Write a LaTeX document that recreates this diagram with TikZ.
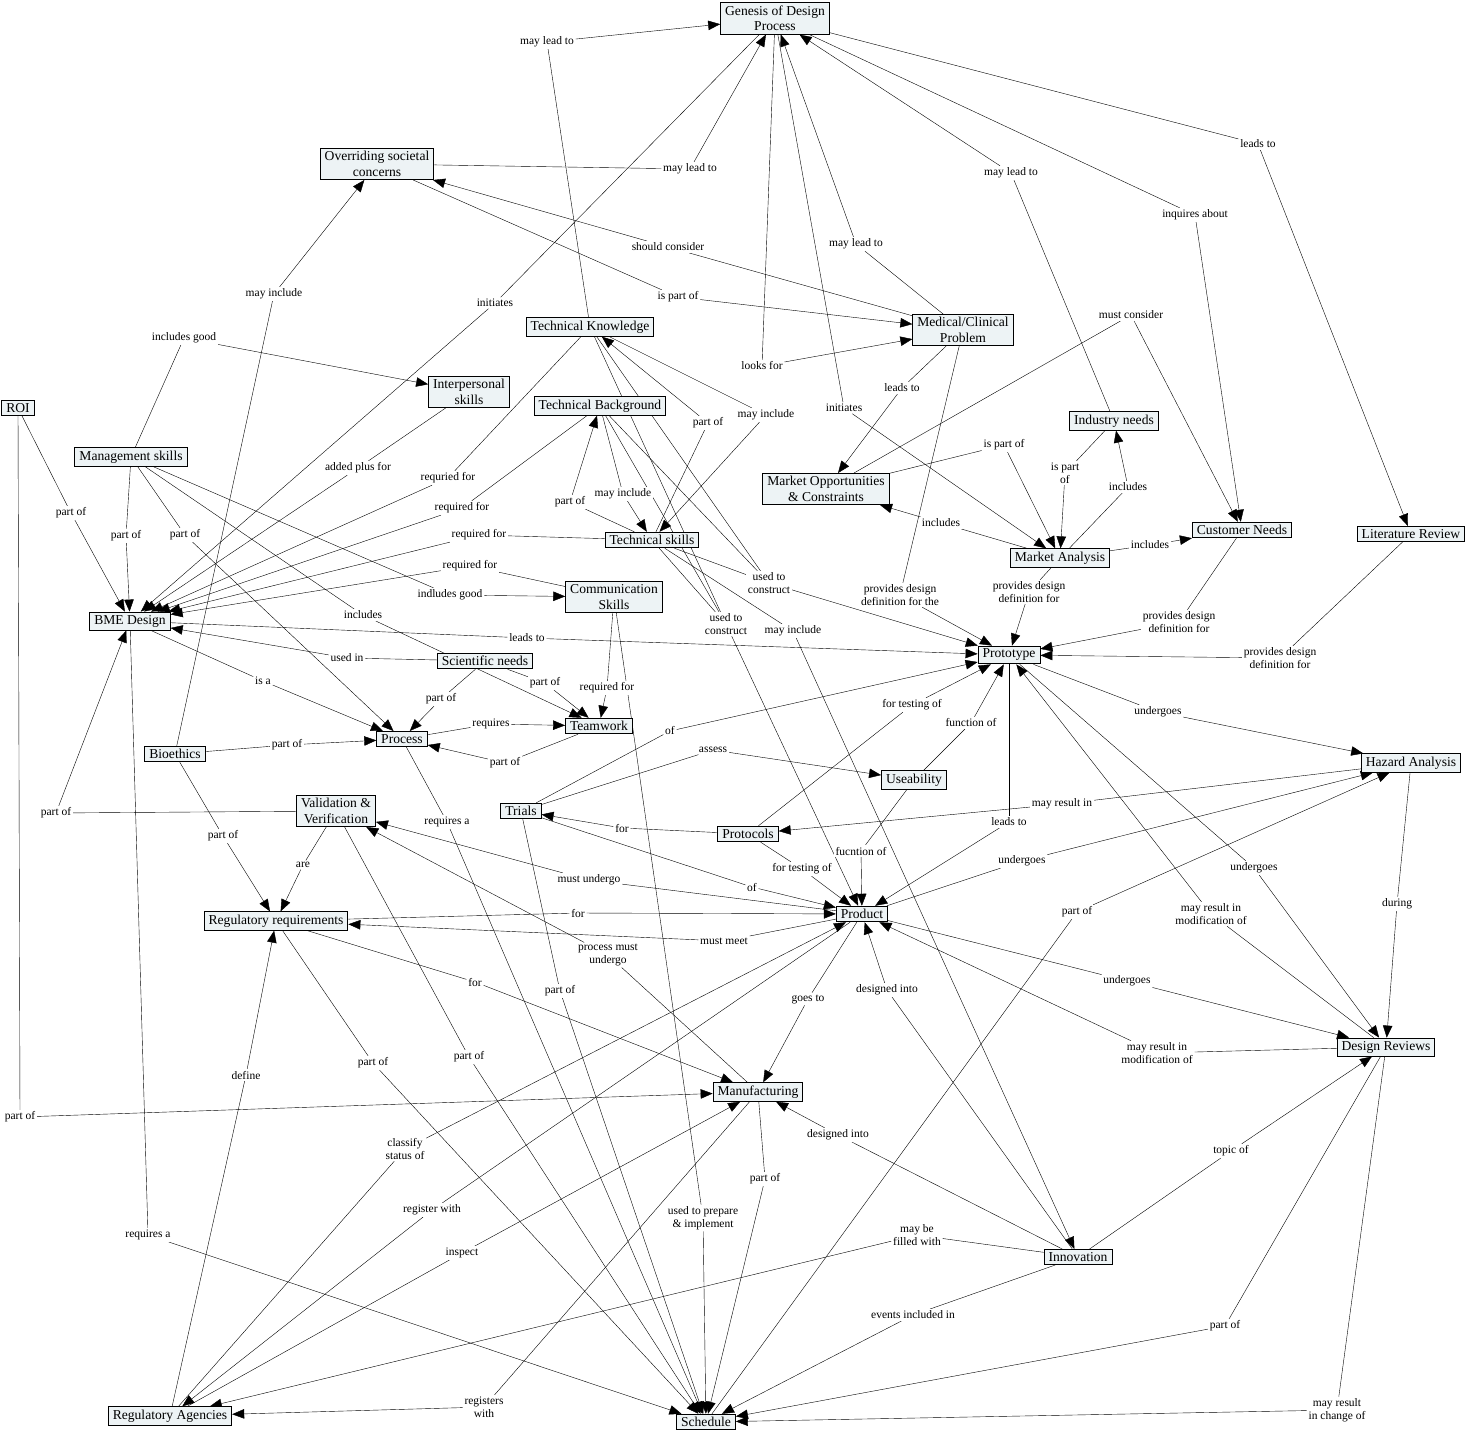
\documentclass[tikz,border=0pt]{standalone}
\usepackage{fontspec}
\setmainfont{Liberation Serif}
\usetikzlibrary{arrows.meta}
\pgfdeclarelayer{bg}
\pgfsetlayers{bg,main}
\begin{document}
\begin{tikzpicture}[x=1pt,y=-1pt,
    concept/.style={draw,line width=0.9pt,fill={rgb,255:red,237;green,243;blue,245},align=center,
      font=\fontsize{13.6}{15.5}\selectfont,inner xsep=4.5pt,inner ysep=3pt},
    phrase/.style={fill=white,align=center,font=\fontsize{11.5}{12.5}\selectfont,inner sep=1.5pt},
    >={Triangle[length=12pt,width=9.5pt]},line width=0.8pt]
    \useasboundingbox (0,0) rectangle (1469,1434);
    \node[concept] (genesis) at (775,18.5) {Genesis of Design\\Process};
    \node[concept] (societal) at (377,164) {Overriding societal\\concerns};
    \node[concept] (techknow) at (590,327) {Technical Knowledge};
    \node[concept] (medical) at (963,330) {Medical/Clinical\\Problem};
    \node[concept] (interpers) at (469,392) {Interpersonal\\skills};
    \node[concept] (roi) at (18,408) {ROI};
    \node[concept] (techback) at (600,406) {Technical Background};
    \node[concept] (industry) at (1114,421) {Industry needs};
    \node[concept] (mgmt) at (131,457) {Management skills};
    \node[concept] (moc) at (826,489) {Market Opportunities\\\& Constraints};
    \node[concept] (customer) at (1242,530) {Customer Needs};
    \node[concept] (litrev) at (1411,534) {Literature Review};
    \node[concept] (techskill) at (652,540) {Technical skills};
    \node[concept] (market) at (1060,558) {Market Analysis};
    \node[concept] (comm) at (614,597) {Communication\\Skills};
    \node[concept] (bme) at (130,621) {BME Design};
    \node[concept] (proto) at (1009,655) {Prototype};
    \node[concept] (sci) at (485,661) {Scientific needs};
    \node[concept] (process) at (402,739) {Process};
    \node[concept] (team) at (599,726) {Teamwork};
    \node[concept] (bioeth) at (175,754) {Bioethics};
    \node[concept] (hazard) at (1411,763) {Hazard Analysis};
    \node[concept] (useab) at (914,780) {Useability};
    \node[concept] (valver) at (336,811) {Validation \&\\Verification};
    \node[concept] (trials) at (521,811) {Trials};
    \node[concept] (protocols) at (748,834) {Protocols};
    \node[concept] (product) at (862,914) {Product};
    \node[concept] (regreq) at (276,921) {Regulatory requirements};
    \node[concept] (reviews) at (1386,1047) {Design Reviews};
    \node[concept] (manuf) at (758,1092) {Manufacturing};
    \node[concept] (innov) at (1078,1257) {Innovation};
    \node[concept] (agencies) at (170,1416) {Regulatory Agencies};
    \node[concept] (sched) at (706,1422) {Schedule};

    \node[phrase] (p1) at (547,42) {may lead to};
    \node[phrase] (p2) at (690,169) {may lead to};
    \node[phrase] (p3) at (668,247) {should consider};
    \node[phrase] (p4) at (678,297) {is part of};
    \node[phrase] (p5) at (495,303) {initiates};
    \node[phrase] (p6) at (856,244) {may lead to};
    \node[phrase] (p7) at (762,366) {looks for};
    \node[phrase] (p8) at (844,408) {initiates};
    \node[phrase] (p9) at (902,388) {leads to};
    \node[phrase] (p10) at (274,294) {may include};
    \node[phrase] (p11) at (184,338) {includes good};
    \node[phrase] (p12) at (1011,173) {may lead to};
    \node[phrase] (p13) at (1258,144) {leads to};
    \node[phrase] (p14) at (1195,215) {inquires about};
    \node[phrase] (p15) at (1131,315) {must consider};
    \node[phrase] (p16) at (1004,445) {is part of};
    \node[phrase] (p17) at (1065,473) {is part\\of};
    \node[phrase] (p18) at (1128,487) {includes};
    \node[phrase] (p19) at (941,523) {includes};
    \node[phrase] (p20) at (1150,545) {includes};
    \node[phrase] (p21) at (1029,592) {provides design\\definition for};
    \node[phrase] (p22) at (1179,622) {provides design\\definition for};
    \node[phrase] (p23) at (1280,658) {provides design\\definition for};
    \node[phrase] (p24) at (900,595) {provides design\\definition for the};
    \node[phrase] (p25) at (358,468) {added plus for};
    \node[phrase] (p26) at (448,478) {requried for};
    \node[phrase] (p27) at (462,508) {required for};
    \node[phrase] (p28) at (479,535) {required for};
    \node[phrase] (p29) at (470,566) {required for};
    \node[phrase] (p30) at (450,595) {indludes good};
    \node[phrase] (p31) at (363,615) {includes};
    \node[phrase] (p32) at (71,513) {part of};
    \node[phrase] (p33) at (126,536) {part of};
    \node[phrase] (p34) at (185,535) {part of};
    \node[phrase] (p35) at (527,638) {leads to};
    \node[phrase] (p36) at (347,658) {used in};
    \node[phrase] (p37) at (263,681) {is a};
    \node[phrase] (p38) at (441,699) {part of};
    \node[phrase] (p39) at (545,683) {part of};
    \node[phrase] (p40) at (491,724) {requires};
    \node[phrase] (p41) at (505,763) {part of};
    \node[phrase] (p42) at (287,745) {part of};
    \node[phrase] (p43) at (223,836) {part of};
    \node[phrase] (p44) at (303,865) {are};
    \node[phrase] (p45) at (56,813) {part of};
    \node[phrase] (p46) at (447,822) {requires a};
    \node[phrase] (p47) at (148,1235) {requires a};
    \node[phrase] (p48) at (20,1117) {part of};
    \node[phrase] (p49) at (246,1075) {define};
    \node[phrase] (p50) at (373,1063) {part of};
    \node[phrase] (p51) at (469,1057) {part of};
    \node[phrase] (p52) at (405,1149) {classify\\status of};
    \node[phrase] (p53) at (432,1210) {register with};
    \node[phrase] (p54) at (462,1253) {inspect};
    \node[phrase] (p55) at (484,1407) {registers\\with};
    \node[phrase] (p56) at (708,423) {part of};
    \node[phrase] (p57) at (766,415) {may include};
    \node[phrase] (p58) at (570,502) {part of};
    \node[phrase] (p59) at (623,494) {may include};
    \node[phrase] (p60) at (769,583) {used to\\construct};
    \node[phrase] (p61) at (726,624) {used to\\construct};
    \node[phrase] (p62) at (793,631) {may include};
    \node[phrase] (p63) at (607,688) {required for};
    \node[phrase] (p64) at (703,1218) {used to prepare\\\& implement};
    \node[phrase] (p65) at (670,731) {of};
    \node[phrase] (p66) at (713,750) {assess};
    \node[phrase] (p67) at (912,705) {for testing of};
    \node[phrase] (p68) at (971,723) {function of};
    \node[phrase] (p69) at (622,828) {for};
    \node[phrase] (p70) at (1062,804) {may result in};
    \node[phrase] (p71) at (1009,822) {leads to};
    \node[phrase] (p72) at (1022,861) {undergoes};
    \node[phrase] (p73) at (1077,912) {part of};
    \node[phrase] (p74) at (1158,712) {undergoes};
    \node[phrase] (p75) at (1254,868) {undergoes};
    \node[phrase] (p76) at (1211,914) {may result in\\modification of};
    \node[phrase] (p77) at (1397,904) {during};
    \node[phrase] (p78) at (1127,981) {undergoes};
    \node[phrase] (p79) at (1157,1053) {may result in\\modification of};
    \node[phrase] (p80) at (1231,1151) {topic of};
    \node[phrase] (p81) at (1225,1326) {part of};
    \node[phrase] (p82) at (1337,1410) {may result\\in change of};
    \node[phrase] (p83) at (913,1315) {events included in};
    \node[phrase] (p84) at (917,1235) {may be\\filled with};
    \node[phrase] (p85) at (838,1135) {designed into};
    \node[phrase] (p86) at (887,990) {designed into};
    \node[phrase] (p87) at (808,999) {goes to};
    \node[phrase] (p88) at (765,1179) {part of};
    \node[phrase] (p89) at (608,955) {process must\\undergo};
    \node[phrase] (p90) at (589,880) {must undergo};
    \node[phrase] (p91) at (578,913) {for};
    \node[phrase] (p92) at (724,941) {must meet};
    \node[phrase] (p93) at (475,982) {for};
    \node[phrase] (p94) at (752,887) {of};
    \node[phrase] (p95) at (802,869) {for testing of};
    \node[phrase] (p96) at (861,851) {fucntion of};
    \node[phrase] (p97) at (560,991) {part of};

    \begin{pgfonlayer}{bg}
    \foreach \a/\b in {techknow/p1,societal/p2,medical/p3,societal/p4,genesis/p5,medical/p6,genesis/p7,
        genesis/p8,medical/p9,bioeth/p10,mgmt/p11,industry/p12,genesis/p13,genesis/p14,moc/p15,moc/p16,
        industry/p17,market/p18,market/p19,market/p20,market/p21,customer/p22,litrev/p23,medical/p24,
        interpers/p25,techknow/p26,techback/p27,techskill/p28,comm/p29,mgmt/p30,mgmt/p31,roi/p32,mgmt/p33,
        mgmt/p34,bme/p35,sci/p36,bme/p37,sci/p38,sci/p39,process/p40,team/p41,bioeth/p42,bioeth/p43,
        valver/p44,valver/p45,process/p46,bme/p47,roi/p48,agencies/p49,regreq/p50,valver/p51,agencies/p52,
        product/p53,agencies/p54,manuf/p55,techskill/p56,techknow/p57,techskill/p58,techback/p59,
        techknow/p60,techback/p60,techskill/p60,techknow/p61,techback/p61,techskill/p61,techskill/p62,
        comm/p63,comm/p64,trials/p65,trials/p66,protocols/p67,useab/p68,protocols/p69,hazard/p70,proto/p71,
        product/p72,sched/p73,proto/p74,proto/p75,reviews/p76,hazard/p77,product/p78,reviews/p79,innov/p80,
        reviews/p81,reviews/p82,innov/p83,innov/p84,innov/p85,innov/p86,product/p87,manuf/p88,manuf/p89,
        product/p90,regreq/p91,product/p92,regreq/p93,trials/p94,protocols/p95,useab/p96,trials/p97}
      \draw (\a) -- (\b);
    \foreach \a/\b in {p1/genesis,p2/genesis,p3/societal,p4/medical,p5/bme,p6/genesis,p7/medical,p8/market,
        p9/moc,p10/societal,p11/interpers,p12/genesis,p13/litrev,p14/customer,p15/customer,p16/market,
        p17/market,p18/industry,p19/moc,p20/customer,p21/proto,p22/proto,p23/proto,p24/proto,p25/bme,p26/bme,
        p27/bme,p28/bme,p29/bme,p30/comm,p31/team,p32/bme,p33/bme,p34/process,p35/proto,p36/bme,p37/process,
        p38/process,p39/team,p40/team,p41/process,p42/process,p43/regreq,p44/regreq,p45/bme,p46/sched,
        p47/sched,p48/manuf,p49/regreq,p50/sched,p51/sched,p52/product,p53/agencies,p54/manuf,p55/agencies,
        p56/techknow,p57/techskill,p58/techback,p59/techskill,p60/proto,p61/product,p62/innov,p63/team,
        p64/sched,p65/proto,p66/useab,p67/proto,p68/proto,p69/trials,p70/protocols,p71/product,p72/hazard,
        p73/hazard,p74/hazard,p75/reviews,p76/proto,p77/reviews,p78/reviews,p79/product,p80/reviews,
        p81/sched,p82/sched,p83/sched,p84/agencies,p85/manuf,p86/product,p87/manuf,p88/sched,p89/valver,
        p90/valver,p91/product,p92/regreq,p93/manuf,p94/product,p95/product,p96/product,p97/sched}
      \draw[->] (\a) -- (\b);
    \end{pgfonlayer}
\end{tikzpicture}
\end{document}
